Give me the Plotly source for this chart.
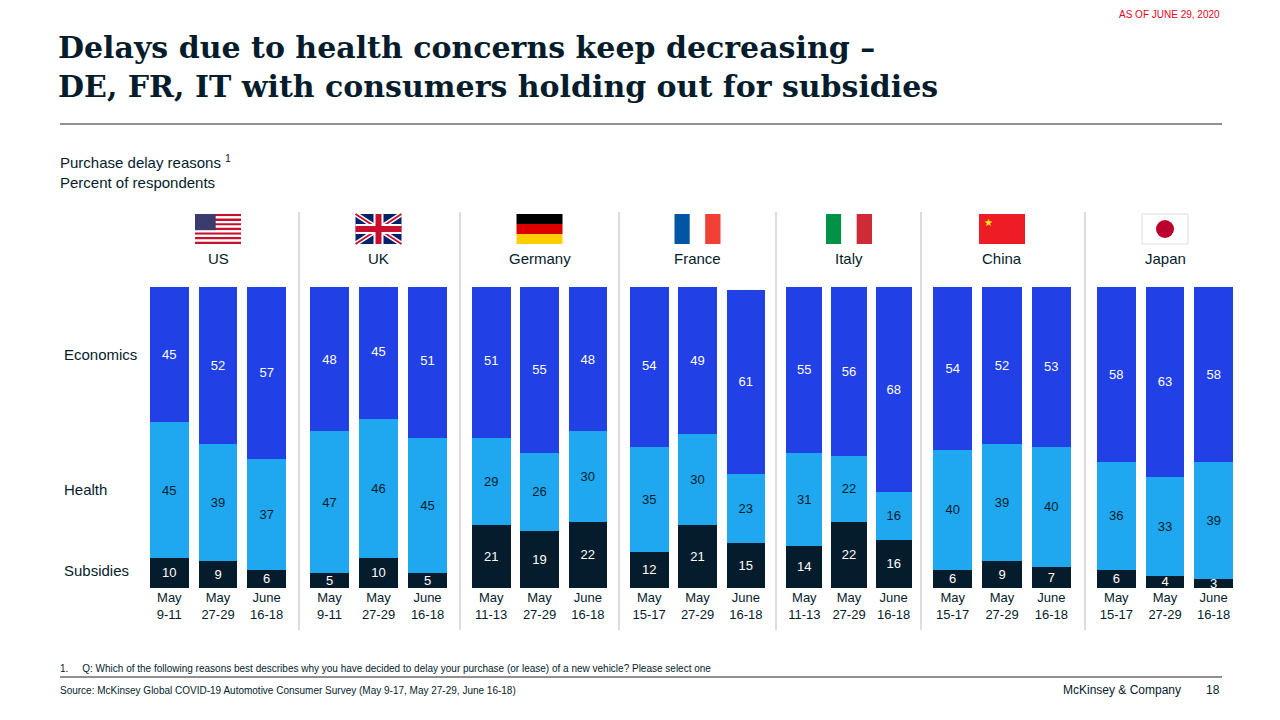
import plotly.graph_objects as go

countries = ["US", "UK", "Germany", "France", "Italy", "China", "Japan"]
dates = [
    ["May<br>9-11", "May<br>27-29", "June<br>16-18"],
    ["May<br>9-11", "May<br>27-29", "June<br>16-18"],
    ["May<br>11-13", "May<br>27-29", "June<br>16-18"],
    ["May<br>15-17", "May<br>27-29", "June<br>16-18"],
    ["May<br>11-13", "May<br>27-29", "June<br>16-18"],
    ["May<br>15-17", "May<br>27-29", "June<br>16-18"],
    ["May<br>15-17", "May<br>27-29", "June<br>16-18"],
]
subsidies = [[10, 9, 6], [5, 10, 5], [21, 19, 22], [12, 21, 15], [14, 22, 16], [6, 9, 7], [6, 4, 3]]
health = [[45, 39, 37], [47, 46, 45], [29, 26, 30], [35, 30, 23], [31, 22, 16], [40, 39, 40], [36, 33, 39]]
economics = [[45, 52, 57], [48, 45, 51], [51, 55, 48], [54, 49, 61], [55, 56, 68], [54, 52, 53], [58, 63, 58]]

W, H = 1280, 720
OFF = 8  # page body margin
def px(x):
    return (x - OFF) / W
def py(y):
    return 1 - (y - OFF) / H

# pixel extents of each country panel
panels = [(150, 286), (310, 447), (472, 607), (630, 765), (787, 911), (933, 1071), (1097, 1233)]
separators = [299, 460, 619, 776, 921, 1085]

NAVY, LIGHT, BLUE = "#051C2C", "#1FA8F0", "#2140E6"
FONT = "Liberation Sans, Arial"

fig = go.Figure()
layout = {}
annotations = []
for i, c in enumerate(countries):
    ax = "" if i == 0 else str(i + 1)
    for vals, col, tcol in [(subsidies[i], NAVY, "white"), (health[i], LIGHT, "#051C2C"), (economics[i], BLUE, "white")]:
        fig.add_trace(go.Bar(
            x=dates[i], y=vals, text=vals, marker_color=col, marker_line_width=0,
            textposition="inside", insidetextanchor="middle", textangle=0,
            textfont=dict(color=tcol, size=13, family=FONT),
            xaxis="x" + ax, yaxis="y" + ax, showlegend=False, hoverinfo="skip",
        ))
    layout["xaxis" + ax] = dict(domain=[px(panels[i][0] - 5), px(panels[i][1] + 5)], anchor="y" + ax,
                                showgrid=False, showline=False, ticks="", fixedrange=True,
                                tickfont=dict(size=13, color="#051C2C", family=FONT))
    layout["yaxis" + ax] = dict(domain=[py(588), py(287)], range=[0, 100], anchor="x" + ax,
                                visible=False)
    cx = (panels[i][0] + panels[i][1]) / 2
    annotations.append(dict(
        x=px(cx), y=py(258), xref="paper", yref="paper", text=c, showarrow=False,
        xanchor="center", yanchor="middle",
        font=dict(size=15, color="#051C2C", family=FONT)))

fig.update_layout(**layout)

shapes = []
def line(x0, y0, x1, y1, color, width):
    shapes.append(dict(type="line", xref="paper", yref="paper", x0=px(x0), x1=px(x1), y0=py(y0), y1=py(y1),
                       line=dict(color=color, width=width)))

for s in separators:
    line(s, 212, s, 630, "#BBBBBB", 1)
line(60, 124, 1222, 124, "#222222", 1)
line(60, 677, 1222, 677, "#222222", 1)

def rect(x0, y0, x1, y1, color):
    shapes.append(dict(type="rect", xref="paper", yref="paper", x0=px(x0), x1=px(x1), y0=py(y1), y1=py(y0),
                       fillcolor=color, line_width=0))

# simple flags, 46x30 px
fw, fh, ft = 46, 30, 214
for i, c in enumerate(countries):
    cx = (panels[i][0] + panels[i][1]) / 2
    x0 = cx - fw / 2
    if c == "US":
        for k in range(7):
            rect(x0, ft + k * 2 * fh / 13, x0 + fw, ft + (k * 2 + 1) * fh / 13, "#C8102E")
            if k < 6:
                rect(x0, ft + (k * 2 + 1) * fh / 13, x0 + fw, ft + (k * 2 + 2) * fh / 13, "white")
        rect(x0, ft, x0 + fw * 0.45, ft + fh * 7 / 13, "#3C3B6E")
    elif c == "UK":
        rect(x0, ft, x0 + fw, ft + fh, "#012169")
        line(x0, ft, x0 + fw, ft + fh, "white", 5)
        line(x0, ft + fh, x0 + fw, ft, "white", 5)
        line(x0, ft, x0 + fw, ft + fh, "#C8102E", 2)
        line(x0, ft + fh, x0 + fw, ft, "#C8102E", 2)
        rect(x0 + fw / 2 - 5, ft, x0 + fw / 2 + 5, ft + fh, "white")
        rect(x0, ft + fh / 2 - 5, x0 + fw, ft + fh / 2 + 5, "white")
        rect(x0 + fw / 2 - 3, ft, x0 + fw / 2 + 3, ft + fh, "#C8102E")
        rect(x0, ft + fh / 2 - 3, x0 + fw, ft + fh / 2 + 3, "#C8102E")
    elif c == "Germany":
        for k, col in enumerate(["#000000", "#DD0000", "#FFCE00"]):
            rect(x0, ft + k * fh / 3, x0 + fw, ft + (k + 1) * fh / 3, col)
    elif c in ("France", "Italy"):
        cols = ["#0055A4", "#FFFFFF", "#EF4135"] if c == "France" else ["#009246", "#FFFFFF", "#CE2B37"]
        for k, col in enumerate(cols):
            rect(x0 + k * fw / 3, ft, x0 + (k + 1) * fw / 3, ft + fh, col)
    elif c == "China":
        rect(x0, ft, x0 + fw, ft + fh, "#EE1C25")
        annotations.append(dict(x=px(x0 + 9), y=py(ft + 8), xref="paper", yref="paper", text="★",
                                xanchor="center", yanchor="middle",
                                showarrow=False, font=dict(size=10, color="#FFFF00")))
    elif c == "Japan":
        shapes.append(dict(type="rect", xref="paper", yref="paper", x0=px(x0), x1=px(x0 + fw), y0=py(ft + fh), y1=py(ft),
                           fillcolor="white", line=dict(color="#DDDDDD", width=1)))
        shapes.append(dict(type="circle", xref="paper", yref="paper", x0=px(cx - 9), x1=px(cx + 9),
                           y0=py(ft + fh / 2 + 9), y1=py(ft + fh / 2 - 9), fillcolor="#BC002D", line_width=0))

def note(x, y, text, size, color="#051C2C", xanchor="left", family=FONT):
    annotations.append(dict(x=px(x), y=py(y), xref="paper", yref="paper", text=text, showarrow=False,
                            xanchor=xanchor, yanchor="middle", align="left",
                            font=dict(size=size, color=color, family=family)))

note(56, 67, "<b>Delays due to health concerns keep decreasing –<br>DE, FR, IT with consumers holding out for subsidies</b>", 30,
     family="DejaVu Serif, serif")
note(1222, 15, "AS OF JUNE 29, 2020", 10, color="#E3051B", xanchor="right")
note(58, 172, "Purchase delay reasons <sup>1</sup><br>Percent of respondents", 15)
note(62, 354, "Economics", 15)
note(62, 490, "Health", 15)
note(62, 570, "Subsidies", 15)
note(58, 668, "1.     Q: Which of the following reasons best describes why you have decided to delay your purchase (or lease) of a new vehicle? Please select one", 10)
note(58, 690, "Source: McKinsey Global COVID-19 Automotive Consumer Survey (May 9-17, May 27-29, June 16-18)", 10)
note(1183, 690, "McKinsey & Company", 12, xanchor="right")
note(1222, 690, "18", 12, xanchor="right")

fig.update_layout(
    width=W, height=H, margin=dict(l=0, r=0, t=0, b=0),
    barmode="stack", bargap=0.2, plot_bgcolor="white", paper_bgcolor="white",
    shapes=shapes, annotations=annotations,
    font=dict(family=FONT), uniformtext=dict(minsize=13, mode="show"),
)

fig.write_html("out.html")
